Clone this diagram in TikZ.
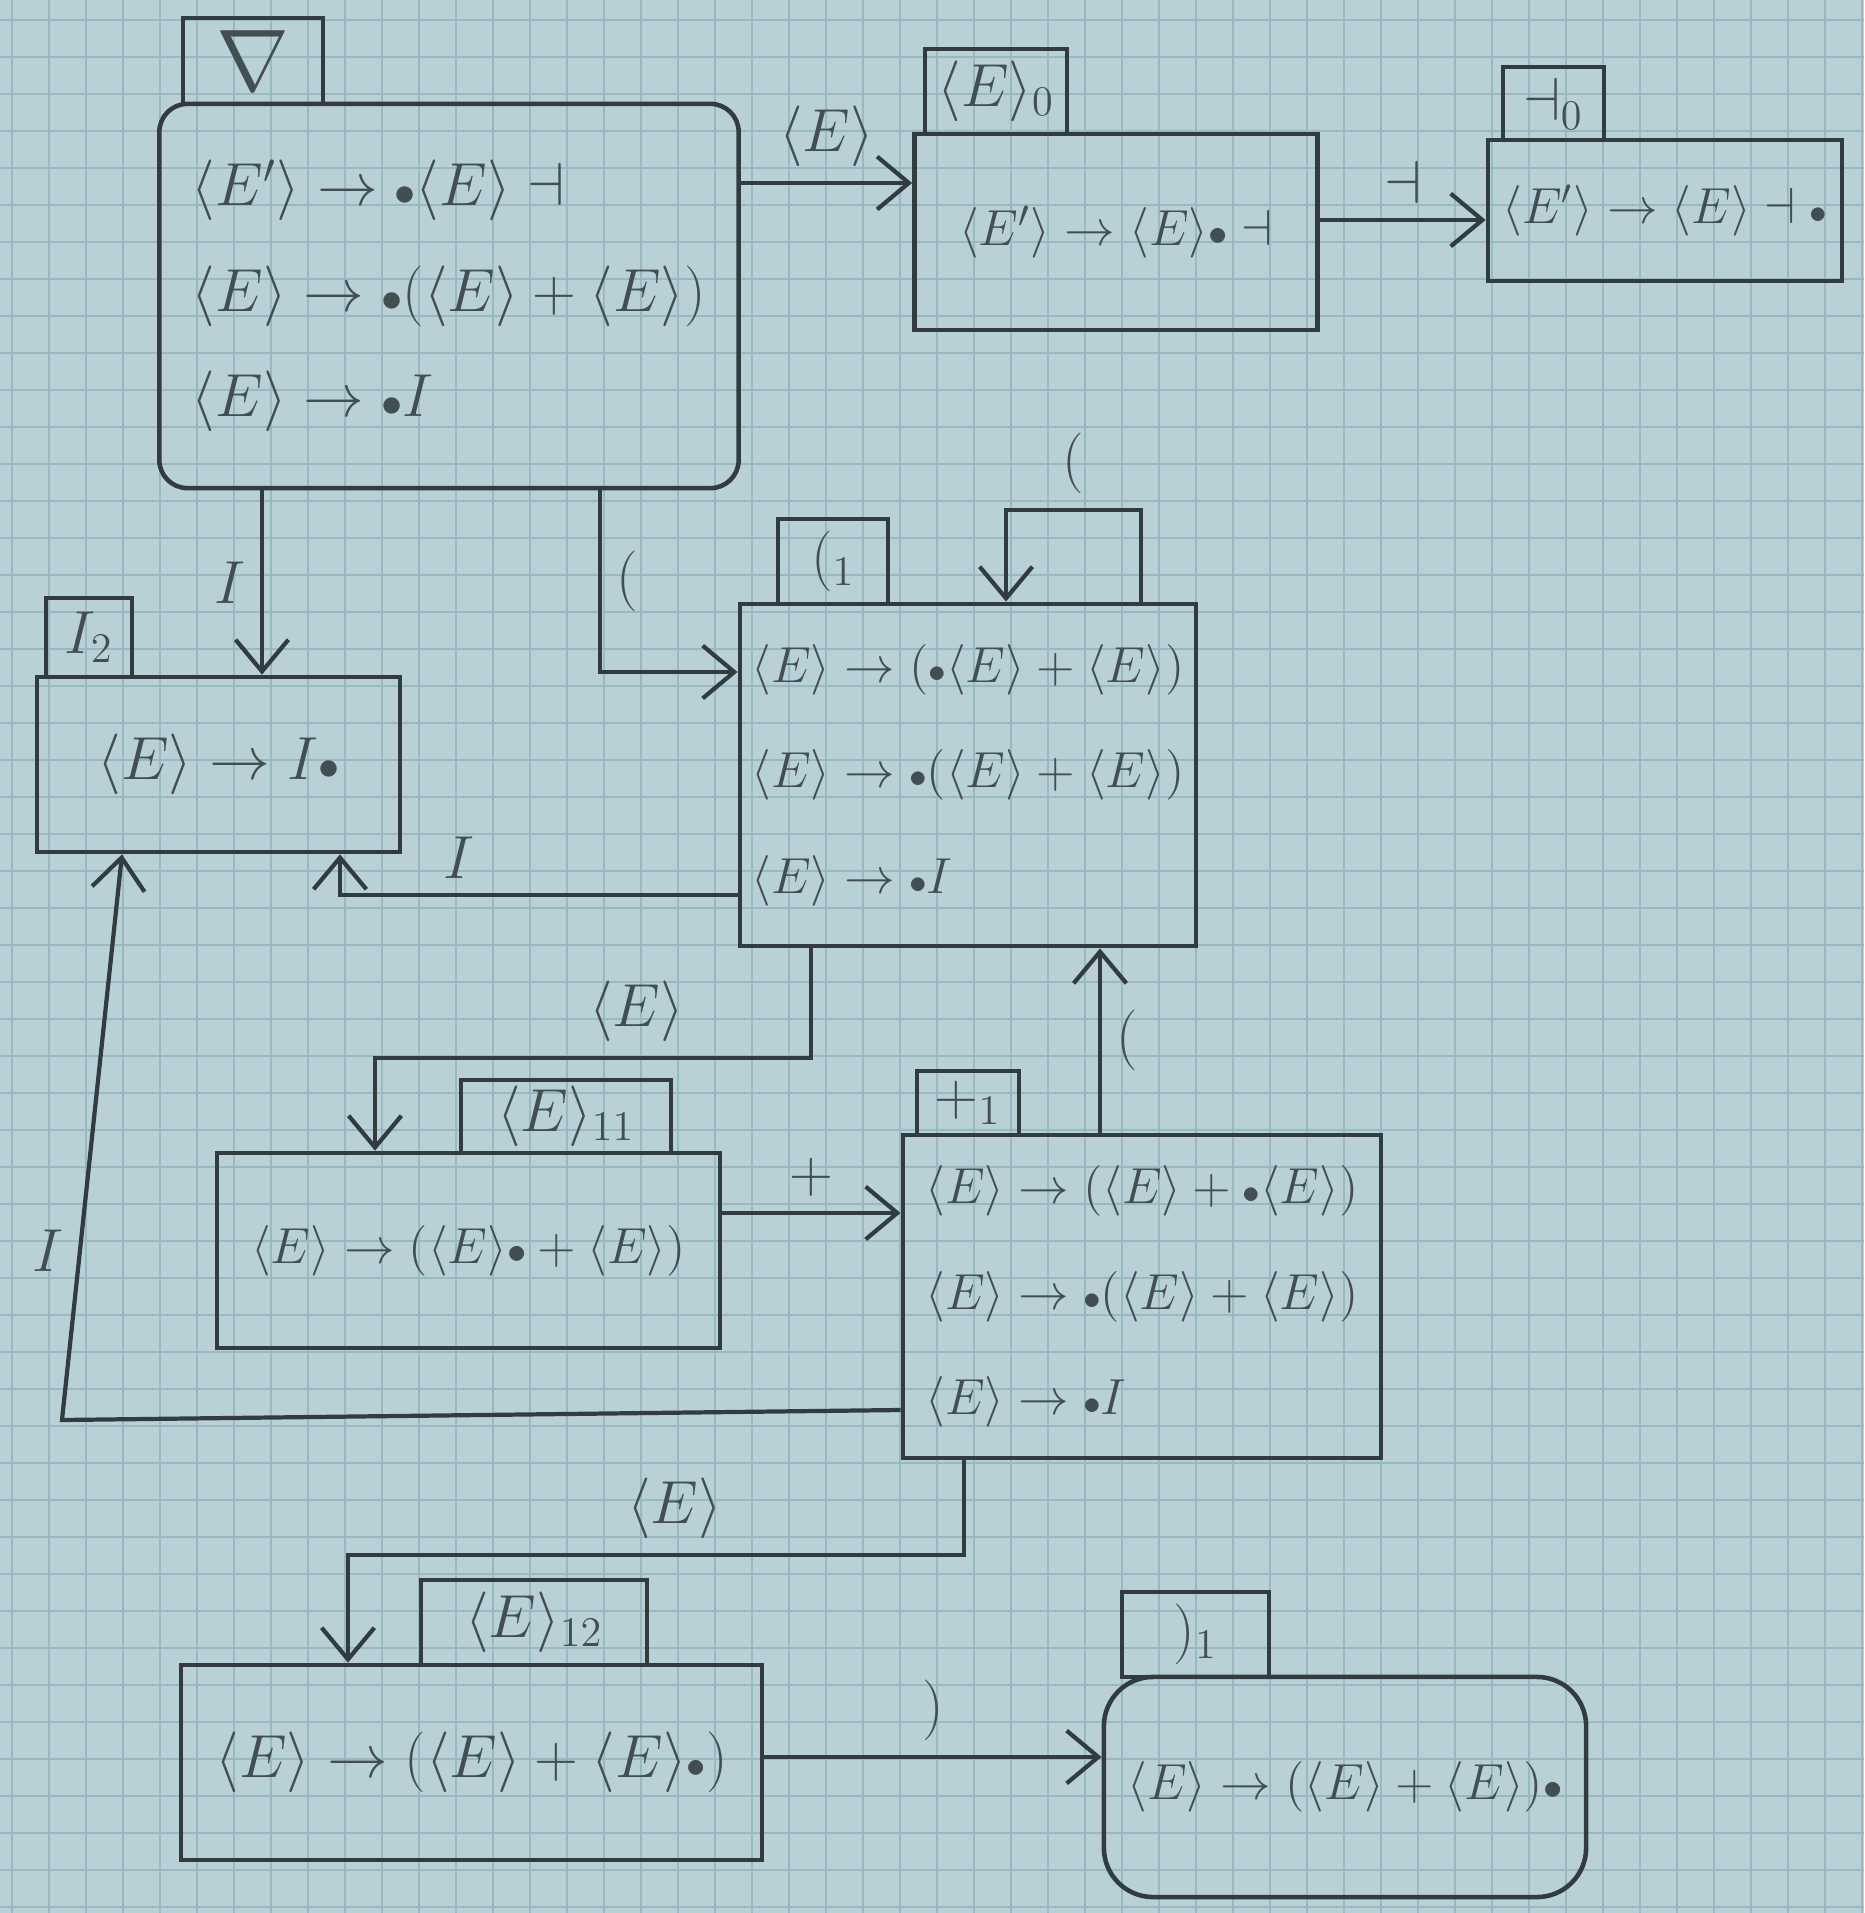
\documentclass[tikz,border=0pt]{standalone}
\usetikzlibrary{arrows.meta,calc}
\newcommand{\NtE}{\langle E\rangle}
\newcommand{\NtEp}{\langle E'\rangle}
\newcommand{\itemdot}{\mathord{\scriptstyle\bullet}}
\definecolor{paper}{RGB}{185,209,214}
\definecolor{gridc}{RGB}{152,184,194}
\definecolor{pen}{RGB}{50,60,64}
\definecolor{ink}{RGB}{66,78,82}
\begin{document}
\begin{tikzpicture}[x=0.01cm,y=-0.01cm,
  state/.style={draw=pen, line width=1.3pt, rectangle, align=left, text=ink, inner sep=0pt},
  tab/.style={draw=pen, line width=1.1pt, rectangle, inner sep=0pt, text=ink, font=\fontsize{17}{20}\selectfont},
  lab/.style={text=ink, font=\fontsize{18}{20}\selectfont, inner sep=4pt},
  arr/.style={draw=pen, line width=1.2pt, -{Straight Barb[length=9pt,width=15pt,line width=1.2pt]}},
  gridline/.style={draw=gridc, line width=0.6pt}]
\useasboundingbox (0,0) rectangle (1864,1913);
\fill[paper] (0,0) rectangle (1864,1913);
\foreach \gx in {12,49,...,1864} \draw[gridline] (\gx,0) -- (\gx,1913);
\foreach \gy in {20,57,...,1913} \draw[gridline] (0,\gy) -- (1864,\gy);

% states
\node[state, rounded corners=8pt, minimum width=5.79cm, minimum height=3.84cm, font=\fontsize{17}{26}\selectfont] (s0) at (449,296)
  {$\NtEp \to \itemdot\NtE\dashv$\\[4pt] $\NtE\to\itemdot(\NtE+\NtE)$\\[4pt] $\NtE\to\itemdot I$};
\node[tab, minimum width=1.40cm, minimum height=0.86cm, font=\fontsize{26}{28}\selectfont] (t0) at (253,61) {$\nabla$};

\node[state, minimum width=4.03cm, minimum height=1.96cm, font=\fontsize{15}{20}\selectfont] (s1) at (1116,232) {$\NtEp\to\NtE\itemdot\dashv$};
\node[tab, minimum width=1.42cm, minimum height=0.85cm] (t1) at (996,91.5) {$\NtE_0$};

\node[state, minimum width=3.54cm, minimum height=1.41cm, font=\fontsize{14}{20}\selectfont] (s2) at (1665,210.5) {$\NtEp\to\NtE\dashv\itemdot$};
\node[tab, minimum width=1.01cm, minimum height=0.73cm] (t2) at (1553.5,103.5) {$\dashv_0$};

\node[state, minimum width=3.63cm, minimum height=1.75cm, font=\fontsize{17}{20}\selectfont] (s3) at (218.5,764.5) {$\NtE\to I\itemdot$};
\node[tab, minimum width=0.86cm, minimum height=0.79cm] (t3) at (89,637.5) {$I_2$};

\node[state, minimum width=4.56cm, minimum height=3.42cm, font=\fontsize{14}{26}\selectfont] (s4) at (968,775)
  {$\NtE\to(\itemdot\NtE+\NtE)$\\[4pt] $\NtE\to\itemdot(\NtE+\NtE)$\\[4pt] $\NtE\to\itemdot I$};
\node[tab, minimum width=1.10cm, minimum height=0.85cm] (t4) at (833,561.5) {$(_1$};

\node[state, minimum width=5.03cm, minimum height=1.95cm, font=\fontsize{15}{20}\selectfont] (s5) at (468.5,1250.5) {$\NtE\to(\NtE\itemdot+\NtE)$};
\node[tab, minimum width=2.10cm, minimum height=0.73cm] (t5) at (566,1116.5) {$\NtE_{11}$};

\node[state, minimum width=4.78cm, minimum height=3.23cm, font=\fontsize{14}{26}\selectfont] (s6) at (1142,1296.5)
  {$\NtE\to(\NtE+\itemdot\NtE)$\\[4pt] $\NtE\to\itemdot(\NtE+\NtE)$\\[4pt] $\NtE\to\itemdot I$};
\node[tab, minimum width=1.02cm, minimum height=0.64cm] (t6) at (968,1103) {$+_1$};

\node[state, minimum width=5.81cm, minimum height=1.95cm, font=\fontsize{16}{20}\selectfont] (s7) at (471.5,1762.5) {$\NtE\to(\NtE+\NtE\itemdot)$};
\node[tab, minimum width=2.26cm, minimum height=0.85cm] (t7) at (534,1622.5) {$\NtE_{12}$};

\node[state, rounded corners=14pt, minimum width=4.82cm, minimum height=2.20cm, font=\fontsize{15}{20}\selectfont] (s8) at (1345,1787) {$\NtE\to(\NtE+\NtE)\itemdot$};
\node[tab, minimum width=1.47cm, minimum height=0.85cm] (t8) at (1195.5,1634.5) {$)_1$};

% bend points
\coordinate (a1) at (0,183);
\coordinate (b1) at (0,220);
\coordinate (c1) at (262,0);
\coordinate (d1) at (600,672);
\coordinate (e1) at (1141,510);
\coordinate (e2) at (1006,510);
\coordinate (f1) at (340,895);
\coordinate (g1) at (811,1058);
\coordinate (g2) at (375,1058);
\coordinate (h1) at (0,1213);
\coordinate (i1) at (1100,0);
\coordinate (j1) at (0,1410);
\coordinate (j2) at (62,1420);
\coordinate (j3) at (122,0);
\coordinate (k1) at (964,1555);
\coordinate (k2) at (348,1555);
\coordinate (l1) at (0,1757);

% transitions
\draw[arr] (s0.east |- a1) -- node[lab,above]{$\NtE$} (s1.west |- a1);
\draw[arr] (s1.east |- b1) -- node[lab,above]{$\dashv$} (s2.west |- b1);
\draw[arr] (s0.south -| c1) -- node[lab,left]{$I$} (s3.north -| c1);
\draw[arr] (s0.south -| d1) -- node[lab,right]{$($} (d1) -- (s4.west |- d1);
\draw[arr] (s4.north -| e1) -- (e1) -- node[lab,above]{$($} (e2) -- (s4.north -| e2);
\draw[arr] (s4.west |- f1) -- node[lab,above,pos=0.7]{$I$} (f1) -- (s3.south -| f1);
\draw[arr] (s4.south -| g1) -- (g1) -- node[lab,above,pos=0.4]{$\NtE$} (g2) -- (s5.north -| g2);
\draw[arr] (s5.east |- h1) -- node[lab,above]{$+$} (s6.west |- h1);
\draw[arr] (s6.north -| i1) -- node[lab,right]{$($} (s4.south -| i1);
\draw[arr] (s6.west |- j1) -- (j2) -- node[lab,left,pos=0.3]{$I$} (s3.south -| j3);
\draw[arr] (s6.south -| k1) -- (k1) -- node[lab,above,pos=0.47]{$\NtE$} (k2) -- (s7.north -| k2);
\draw[arr] (s7.east |- l1) -- node[lab,above]{$)$} (s8.west |- l1);
\end{tikzpicture}
\end{document}
